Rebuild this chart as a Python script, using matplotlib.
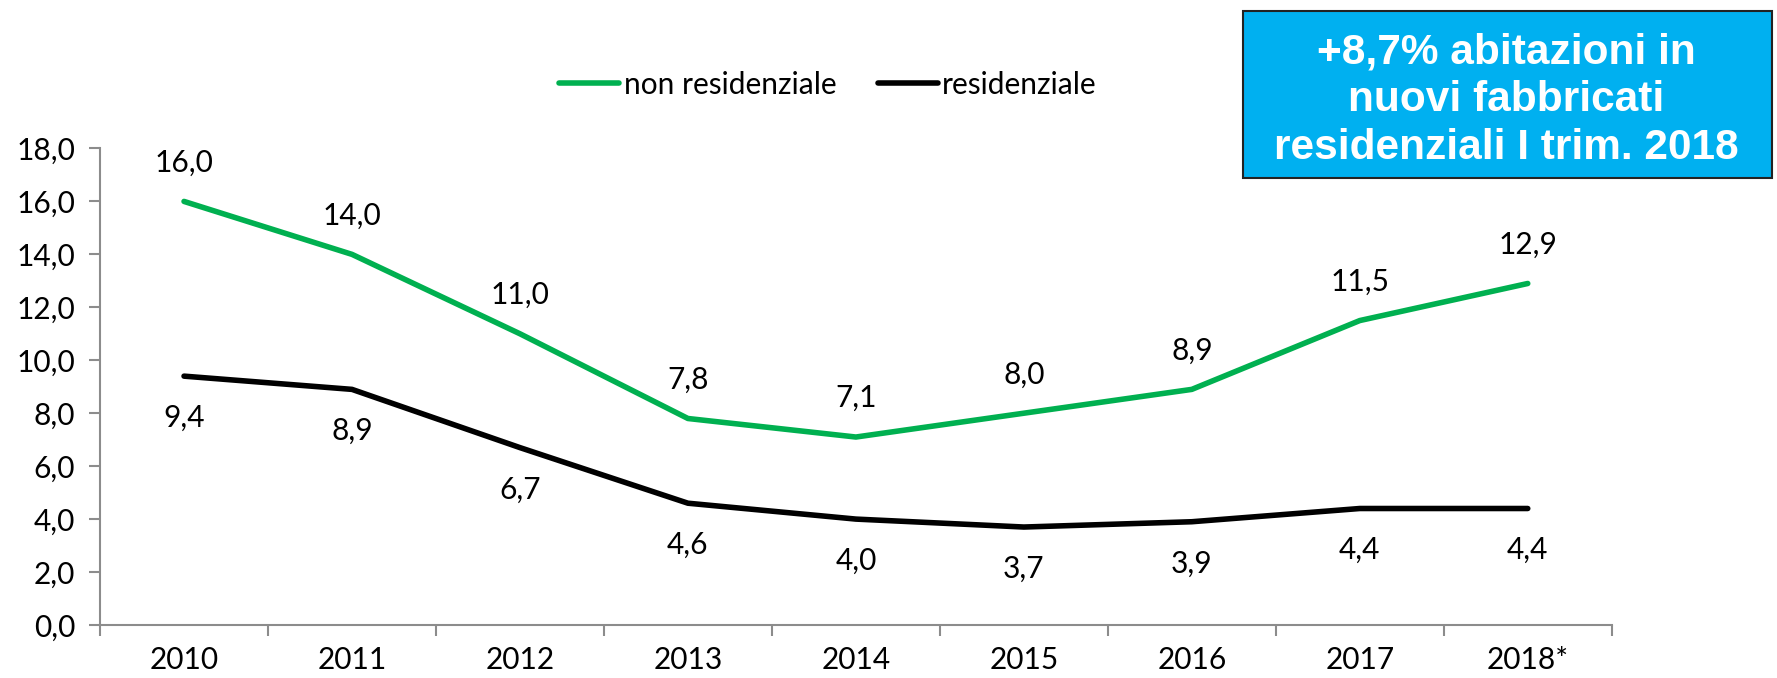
import matplotlib.pyplot as plt
from matplotlib.lines import Line2D

# Data
years = ["2010", "2011", "2012", "2013", "2014", "2015", "2016", "2017", "2018*"]
non_residenziale = [16.0, 14.0, 11.0, 7.8, 7.1, 8.0, 8.9, 11.5, 12.9]
residenziale = [9.4, 8.9, 6.7, 4.6, 4.0, 3.7, 3.9, 4.4, 4.4]
y_ticks = [0, 2, 4, 6, 8, 10, 12, 14, 16, 18]
box_text = "+8,7% abitazioni in\nnuovi fabbricati\nresidenziali I trim. 2018"

GREEN = "#00B050"
AXIS = "#8C8C8C"
FONT = "Lato"
FS = 21.5


def fmt(v):
    return f"{v:.1f}".replace(".", ",")


fig = plt.figure(figsize=(17.77, 6.78), dpi=100)

# highlighted callout box (drawn first, behind a transparent axes)
box = plt.Rectangle((0.6995, 0.7375), 0.2975, 0.2465, transform=fig.transFigure,
                    facecolor="#00B0F0", edgecolor="#222222", lw=1.5)
fig.patches.append(box)

ax = fig.add_axes([0.0563, 0.0782, 0.8507, 0.7028])
ax.set_facecolor("none")

x = list(range(len(years)))
ax.plot(x, non_residenziale, color=GREEN, lw=4, solid_capstyle="round",
        solid_joinstyle="round")
ax.plot(x, residenziale, color="black", lw=4, solid_capstyle="round",
        solid_joinstyle="round")

# data labels: green above, black below
for xi, v in zip(x, non_residenziale):
    ax.annotate(fmt(v), (xi, v), xytext=(0, 28), textcoords="offset points",
                ha="center", va="center", fontsize=FS, family=FONT)
for xi, v in zip(x, residenziale):
    ax.annotate(fmt(v), (xi, v), xytext=(0, -30), textcoords="offset points",
                ha="center", va="center", fontsize=FS, family=FONT)

ax.set_xlim(-0.5, len(years) - 0.5)
ax.set_ylim(0, 18)
ax.set_yticks(y_ticks)
ax.set_yticklabels([fmt(t) for t in y_ticks], fontsize=FS, family=FONT)

# category labels centered, tick marks between categories
ax.set_xticks(x)
ax.set_xticklabels(years, fontsize=FS, family=FONT)
ax.tick_params(axis="x", length=0, pad=15)
ax.set_xticks([i - 0.5 for i in range(len(years) + 1)], minor=True)
ax.tick_params(axis="x", which="minor", length=8, width=1.5, color=AXIS,
               direction="out")
ax.tick_params(axis="y", length=8, width=1.5, color=AXIS, direction="out",
               pad=10)

for s in ["top", "right"]:
    ax.spines[s].set_visible(False)
for s in ["left", "bottom"]:
    ax.spines[s].set_color(AXIS)
    ax.spines[s].set_linewidth(1.5)

handles = [Line2D([0], [0], color=GREEN, lw=4, solid_capstyle="round"),
           Line2D([0], [0], color="black", lw=4, solid_capstyle="round")]
fig.legend(handles, ["non residenziale", "residenziale"], loc="center",
           bbox_to_anchor=(0.466, 0.875), ncol=2, frameon=False,
           prop={"family": FONT, "size": FS}, handlelength=2.0,
           handletextpad=0.15, columnspacing=1.4)

fig.text(0.8475, 0.852, box_text, ha="center", va="center", fontsize=30.5,
         fontweight="bold", color="white", family="Liberation Sans",
         linespacing=1.25)

fig.savefig("out.png", dpi=100)
